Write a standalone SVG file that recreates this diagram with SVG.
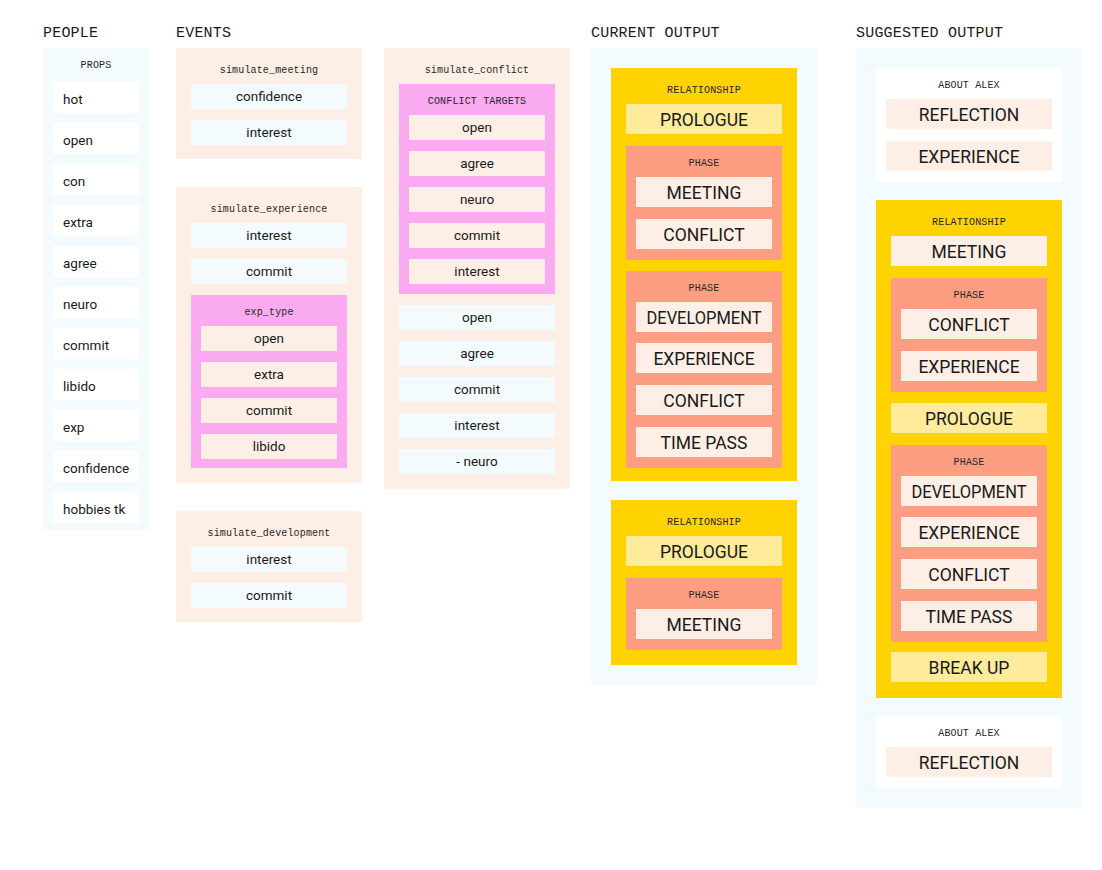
<svg xmlns="http://www.w3.org/2000/svg" width="1102" height="870" viewBox="0 0 1102 870">
<style>
.bg{fill:#ffffff}
.blue{fill:#f3fbfe}
.peach{fill:#fdefe5}
.pink{fill:#f9aaf0}
.white{fill:#ffffff}
.yellow{fill:#fed300}
.lyellow{fill:#ffeb9c}
.salmon{fill:#fd9d81}
.h{font-family:"Liberation Mono","DejaVu Sans Mono",monospace;font-size:15px;letter-spacing:0.2px;fill:#1a1a1a}
.lbl{font-family:"Liberation Mono","DejaVu Sans Mono",monospace;font-size:10px;letter-spacing:0.15px;fill:#262626;text-anchor:middle}
.it{font-family:Roboto,"Noto Sans",sans-serif;font-size:13.5px;fill:#1a1a1a;text-anchor:middle}
.itl{font-family:Roboto,"Noto Sans",sans-serif;font-size:13.5px;fill:#1a1a1a}
.big{font-family:Roboto,"Noto Sans",sans-serif;font-size:17.5px;fill:#1a1a1a;text-anchor:middle}
</style>
<rect class="bg" x="0" y="0" width="1102" height="870"/>

<g id="headers">
<text class="h" x="43" y="37">PEOPLE</text>
<text class="h" x="176" y="37">EVENTS</text>
<text class="h" x="591" y="37">CURRENT OUTPUT</text>
<text class="h" x="856" y="37">SUGGESTED OUTPUT</text>
</g>

<g id="people">
<rect class="blue" x="43" y="48" width="106" height="483"/>
<text class="lbl" x="96" y="67.5">PROPS</text>
<g id="people-hot"><rect class="white" x="53" y="82" width="86" height="31"/><text class="itl" x="63" y="104">hot</text></g>
<g id="people-open"><rect class="white" x="53" y="123" width="86" height="31"/><text class="itl" x="63" y="145">open</text></g>
<g id="people-con"><rect class="white" x="53" y="164" width="86" height="31"/><text class="itl" x="63" y="186">con</text></g>
<g id="people-extra"><rect class="white" x="53" y="205" width="86" height="31"/><text class="itl" x="63" y="227">extra</text></g>
<g id="people-agree"><rect class="white" x="53" y="246" width="86" height="31"/><text class="itl" x="63" y="268">agree</text></g>
<g id="people-neuro"><rect class="white" x="53" y="287" width="86" height="31"/><text class="itl" x="63" y="309">neuro</text></g>
<g id="people-commit"><rect class="white" x="53" y="328" width="86" height="31"/><text class="itl" x="63" y="350">commit</text></g>
<g id="people-libido"><rect class="white" x="53" y="369" width="86" height="31"/><text class="itl" x="63" y="391">libido</text></g>
<g id="people-exp"><rect class="white" x="53" y="410" width="86" height="31"/><text class="itl" x="63" y="432">exp</text></g>
<g id="people-confidence"><rect class="white" x="53" y="451" width="86" height="31"/><text class="itl" x="63" y="473">confidence</text></g>
<g id="people-hobbies"><rect class="white" x="53" y="492" width="86" height="31"/><text class="itl" x="63" y="514">hobbies tk</text></g>
</g>

<g id="simulate_meeting">
<rect class="peach" x="176" y="48" width="186" height="111"/>
<text class="lbl" x="269" y="73">simulate_meeting</text>
<rect class="blue" x="191" y="84" width="156" height="25"/><text class="it" x="269" y="101.3">confidence</text>
<rect class="blue" x="191" y="120" width="156" height="25"/><text class="it" x="269" y="137.3">interest</text>
</g>

<g id="simulate_experience">
<rect class="peach" x="176" y="187" width="186" height="296"/>
<text class="lbl" x="269" y="212">simulate_experience</text>
<rect class="blue" x="191" y="223" width="156" height="25"/><text class="it" x="269" y="240.3">interest</text>
<rect class="blue" x="191" y="259" width="156" height="25"/><text class="it" x="269" y="276.3">commit</text>
<g id="exp_type">
<rect class="pink" x="191" y="295" width="156" height="173"/>
<text class="lbl" x="269" y="315">exp_type</text>
<rect class="peach" x="201" y="326" width="136" height="25"/><text class="it" x="269" y="343.3">open</text>
<rect class="peach" x="201" y="362" width="136" height="25"/><text class="it" x="269" y="379.3">extra</text>
<rect class="peach" x="201" y="398" width="136" height="25"/><text class="it" x="269" y="415.3">commit</text>
<rect class="peach" x="201" y="434" width="136" height="25"/><text class="it" x="269" y="451.3">libido</text>
</g>
</g>

<g id="simulate_development">
<rect class="peach" x="176" y="511" width="186" height="111"/>
<text class="lbl" x="269" y="536">simulate_development</text>
<rect class="blue" x="191" y="547" width="156" height="25"/><text class="it" x="269" y="564.3">interest</text>
<rect class="blue" x="191" y="583" width="156" height="25"/><text class="it" x="269" y="600.3">commit</text>
</g>

<g id="simulate_conflict">
<rect class="peach" x="384" y="48" width="186" height="441"/>
<text class="lbl" x="477" y="73">simulate_conflict</text>
<g id="conflict_targets">
<rect class="pink" x="399" y="84" width="156" height="210"/>
<text class="lbl" x="477" y="104">CONFLICT TARGETS</text>
<rect class="peach" x="409" y="115" width="136" height="25"/><text class="it" x="477" y="132.3">open</text>
<rect class="peach" x="409" y="151" width="136" height="25"/><text class="it" x="477" y="168.3">agree</text>
<rect class="peach" x="409" y="187" width="136" height="25"/><text class="it" x="477" y="204.3">neuro</text>
<rect class="peach" x="409" y="223" width="136" height="25"/><text class="it" x="477" y="240.3">commit</text>
<rect class="peach" x="409" y="259" width="136" height="25"/><text class="it" x="477" y="276.3">interest</text>
</g>
<rect class="blue" x="399" y="305" width="156" height="25"/><text class="it" x="477" y="322.3">open</text>
<rect class="blue" x="399" y="341" width="156" height="25"/><text class="it" x="477" y="358.3">agree</text>
<rect class="blue" x="399" y="377" width="156" height="25"/><text class="it" x="477" y="394.3">commit</text>
<rect class="blue" x="399" y="413" width="156" height="25"/><text class="it" x="477" y="430.3">interest</text>
<rect class="blue" x="399" y="449" width="156" height="25"/><text class="it" x="477" y="466.3">- neuro</text>
</g>

<g id="current_output">
<rect class="blue" x="591" y="48" width="226" height="637"/>
<g id="cur_rel1">
<rect class="yellow" x="611" y="68" width="186" height="413"/>
<text class="lbl" x="704" y="93">RELATIONSHIP</text>
<rect class="lyellow" x="626" y="104" width="156" height="30"/><text class="big" x="704" y="125.5">PROLOGUE</text>
<g id="cur_rel1_phase1">
<rect class="salmon" x="626" y="146" width="156" height="114"/>
<text class="lbl" x="704" y="166">PHASE</text>
<rect class="peach" x="636" y="177" width="136" height="30"/><text class="big" x="704" y="198.5">MEETING</text>
<rect class="peach" x="636" y="219" width="136" height="30"/><text class="big" x="704" y="240.5">CONFLICT</text>
</g>
<g id="cur_rel1_phase2">
<rect class="salmon" x="626" y="271" width="156" height="197"/>
<text class="lbl" x="704" y="291">PHASE</text>
<rect class="peach" x="636" y="302" width="136" height="30"/><text class="big" x="704" y="323.5" textLength="115" lengthAdjust="spacingAndGlyphs">DEVELOPMENT</text>
<rect class="peach" x="636" y="343" width="136" height="30"/><text class="big" x="704" y="364.5">EXPERIENCE</text>
<rect class="peach" x="636" y="385" width="136" height="30"/><text class="big" x="704" y="406.5">CONFLICT</text>
<rect class="peach" x="636" y="427" width="136" height="30"/><text class="big" x="704" y="448.5">TIME PASS</text>
</g>
</g>
<g id="cur_rel2">
<rect class="yellow" x="611" y="500" width="186" height="165"/>
<text class="lbl" x="704" y="525">RELATIONSHIP</text>
<rect class="lyellow" x="626" y="536" width="156" height="30"/><text class="big" x="704" y="557.5">PROLOGUE</text>
<g id="cur_rel2_phase">
<rect class="salmon" x="626" y="578" width="156" height="72"/>
<text class="lbl" x="704" y="598">PHASE</text>
<rect class="peach" x="636" y="609" width="136" height="30"/><text class="big" x="704" y="630.5">MEETING</text>
</g>
</g>
</g>

<g id="suggested_output">
<rect class="blue" x="856" y="48" width="226" height="760"/>
<g id="sug_about1">
<rect class="white" x="876" y="68" width="186" height="114"/>
<text class="lbl" x="969" y="88">ABOUT ALEX</text>
<rect class="peach" x="886" y="99" width="166" height="30"/><text class="big" x="969" y="120.5">REFLECTION</text>
<rect class="peach" x="886" y="141" width="166" height="30"/><text class="big" x="969" y="162.5">EXPERIENCE</text>
</g>
<g id="sug_rel">
<rect class="yellow" x="876" y="200" width="186" height="498"/>
<text class="lbl" x="969" y="225">RELATIONSHIP</text>
<rect class="peach" x="891" y="236" width="156" height="30"/><text class="big" x="969" y="257.5">MEETING</text>
<g id="sug_phase1">
<rect class="salmon" x="891" y="278" width="156" height="114"/>
<text class="lbl" x="969" y="298">PHASE</text>
<rect class="peach" x="901" y="309" width="136" height="30"/><text class="big" x="969" y="330.5">CONFLICT</text>
<rect class="peach" x="901" y="351" width="136" height="30"/><text class="big" x="969" y="372.5">EXPERIENCE</text>
</g>
<rect class="lyellow" x="891" y="403" width="156" height="30"/><text class="big" x="969" y="424.5">PROLOGUE</text>
<g id="sug_phase2">
<rect class="salmon" x="891" y="445" width="156" height="197"/>
<text class="lbl" x="969" y="465">PHASE</text>
<rect class="peach" x="901" y="476" width="136" height="30"/><text class="big" x="969" y="497.5" textLength="115" lengthAdjust="spacingAndGlyphs">DEVELOPMENT</text>
<rect class="peach" x="901" y="517" width="136" height="30"/><text class="big" x="969" y="538.5">EXPERIENCE</text>
<rect class="peach" x="901" y="559" width="136" height="30"/><text class="big" x="969" y="580.5">CONFLICT</text>
<rect class="peach" x="901" y="601" width="136" height="30"/><text class="big" x="969" y="622.5">TIME PASS</text>
</g>
<rect class="lyellow" x="891" y="652" width="156" height="30"/><text class="big" x="969" y="673.5">BREAK UP</text>
</g>
<g id="sug_about2">
<rect class="white" x="876" y="716" width="186" height="72"/>
<text class="lbl" x="969" y="736">ABOUT ALEX</text>
<rect class="peach" x="886" y="747" width="166" height="30"/><text class="big" x="969" y="768.5">REFLECTION</text>
</g>
</g>

<g id="connectors"></g>
</svg>
